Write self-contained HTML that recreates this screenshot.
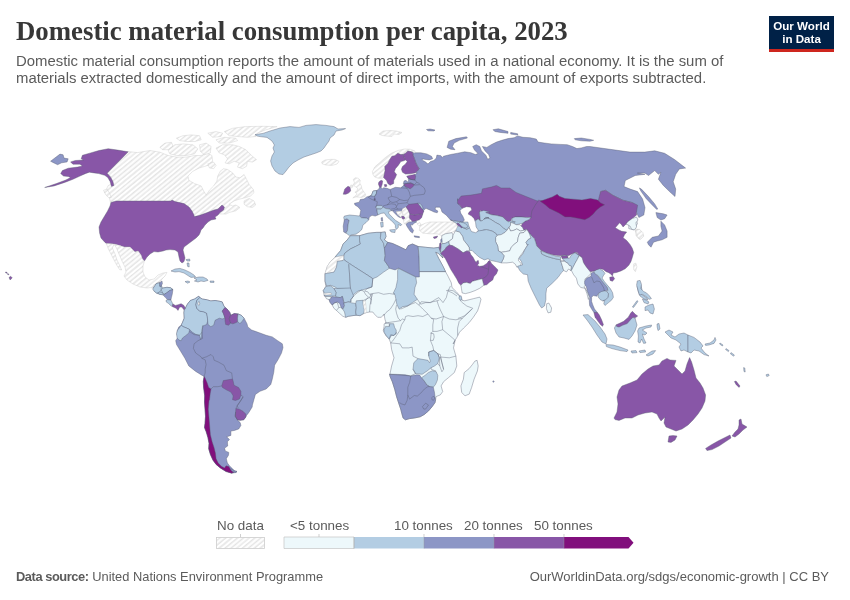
<!DOCTYPE html>
<html lang="en">
<head>
<meta charset="utf-8">
<title>Domestic material consumption per capita, 2023</title>
<style>
html,body{margin:0;padding:0;background:#fff;}
body{width:850px;height:600px;position:relative;overflow:hidden;font-family:"Liberation Sans",sans-serif;color:#5b5b5b;}
#title{position:absolute;left:16px;top:15px;margin:0;font-family:"Liberation Serif",serif;font-weight:bold;font-size:26.8px;line-height:32px;color:#373737;white-space:nowrap;letter-spacing:0px;}
#sub{position:absolute;left:16px;top:52.9px;margin:0;font-size:14.9px;line-height:17.4px;color:#5b5b5b;white-space:nowrap;}
#logo{position:absolute;left:769px;top:16px;width:65px;height:33px;background:#002147;border-bottom:3px solid #ce261e;color:#fff;font-weight:bold;font-size:11.6px;line-height:12.2px;text-align:center;}
#logo span{display:block;white-space:nowrap;}
#logo .a{padding-top:4.4px;}
#map{position:absolute;left:0;top:0;}
.c1,.c2,.c3,.c4,.c5,.w{stroke:#555a70;stroke-width:0.4;stroke-linejoin:round;}
.c1{fill:#edf8fb}.c2{fill:#b3cde3}.c3{fill:#8c96c6}.c4{fill:#8856a7}.c5{fill:#810f7c}.w{fill:#fff}
.b{fill:none;stroke:#555a70;stroke-width:0.4;stroke-linejoin:round;}
.n{fill:url(#h);stroke:#c8c8c8;stroke-width:0.4;stroke-linejoin:round;}
.lg{position:absolute;font-size:13.4px;line-height:16px;color:#5b5b5b;white-space:nowrap;}
#src{position:absolute;left:16px;top:569px;font-size:12.87px;line-height:16px;color:#5b5b5b;white-space:nowrap;}
#src b{font-weight:bold;letter-spacing:-0.44px;}
#url{position:absolute;right:21px;top:569px;font-size:13px;line-height:16px;color:#5b5b5b;white-space:nowrap;}
</style>
</head>
<body>
<h1 id="title">Domestic material consumption per capita, 2023</h1>
<p id="sub">Domestic material consumption reports the amount of materials used in a national economy. It is the sum of<br>materials extracted domestically and the amount of direct imports, with the amount of exports subtracted.</p>
<div id="logo"><span class="a">Our World</span><span>in Data</span></div>
<svg id="map" width="850" height="600" viewBox="0 0 850 600">
<defs>
<pattern id="h" width="37" height="37" patternUnits="userSpaceOnUse" patternTransform="rotate(-39.3)">
<rect width="37" height="37" fill="#fff"/>
<path d="M0,0.60H37M0,4.30H37M0,8.00H37M0,11.70H37M0,15.40H37M0,19.10H37M0,22.80H37M0,26.50H37M0,30.20H37M0,33.90H37" stroke="#e3e3e3" stroke-width="1.45" fill="none"/>
</pattern>
</defs>
<path class="n" d="M127.8,151.5 137.6,152.6 150,150.5 159.9,152.2 168.2,155.5 176.4,157.1 186.3,157.1 194.6,155.5 201.2,155.5 207,153 211.9,155.5 212.7,161.3 207.8,165.4 199.5,167.9 192.9,171.2 188,176.1 188.8,180.3 194.6,183.6 201.2,186 203.7,191 206.1,195.1 209.4,190.2 213.6,186 216.9,181.1 217.7,176.1 220.2,171.2 223.5,168.7 227.6,169.5 232.5,172.8 235.9,177 240,177.8 244.1,174.5 246.6,179.4 249.1,184.4 253.2,189.3 254,192.6 250.7,195.9 245.8,197.6 239.2,199.2 234.2,200.9 229.2,204.2 232.5,205.9 235.9,205 240,207.5 235.9,210.8 229.2,212.5 225.9,214.1 217.6,213.8 205.9,218.5 189.4,220.9 170.6,209.1 114.1,209.1 110.6,203.2 109.4,197.4 104.7,192.6 108.2,185.6 112.9,183.2 110.6,176.2 107.1,173.8Z"/>
<path class="n" d="M159.9,147.2 164.9,143.1 171.5,142.3 173.1,146.4 168.2,149.7 162.4,149.7Z"/>
<path class="n" d="M168.2,150.5 174.8,144.8 183,143.9 192.9,144.8 197.9,148.9 194.6,153.8 186.3,155.5 176.4,155.5 169.8,153.8Z"/>
<path class="n" d="M176.4,138.2 183,135.7 191.3,134.9 199.5,135.7 201.2,139.8 194.6,141.5 186.3,141.5 179.7,140.6Z"/>
<path class="n" d="M199.5,144.8 206.1,143.1 211.1,146.4 210.3,153 204.5,154.7 200.4,151.4Z"/>
<path class="n" d="M216,139.8 224.3,137.3 235.9,138.2 237.5,140.6 229.2,143.1 219.3,143.1Z"/>
<path class="n" d="M224.3,131.6 232.5,128.3 245.8,126.6 262.3,126.3 277.1,126.6 265.6,129.9 257.3,133.2 255.7,136.5 247.4,137.3 237.5,136.5 229.2,135.7Z"/>
<path class="n" d="M207.8,133.2 216,131.6 222.6,133.2 221,136.5 212.7,137.3Z"/>
<path class="n" d="M216,148.1 222.6,144.8 232.5,144.8 239.2,146.4 245.8,149.7 252.4,156.3 256.5,159.6 252.4,162.1 247.4,161.3 246.6,166.2 242.5,168.7 237.5,167.1 239.2,162.9 234.2,161.3 229.2,163.8 225.1,162.9 227.6,158.8 224.3,154.7 219.3,153Z"/>
<path class="n" d="M207.8,163.8 213.6,162.1 216,165.4 213.6,168.7 209.4,167.9Z"/>
<path class="n" d="M244.1,200.9 249.1,198.4 254,200.9 255.7,205 252.4,207.5 247.4,206.7 244.1,204.2Z"/>
<path class="n" d="M103.5,190.3 107.1,189.1 109.9,193.8 111.3,197.4 108.9,197.8 105.9,195Z"/>
<path class="c2" d="M255,134.6 263,133.4 270,131 280,128 290,126.6 299,127.4 306,125.4 316,124.6 326,125.4 334,126.6 338,129 345.6,128.6 342,130 336,131 334,135 330,138 329,141 326,145 324,148 321,151 316,153 310,155 304,157 298,160 293,163 289,167 286,171 283,174.6 279,174 275,171 272,166 270.6,161 272,156 274.4,152 273,148 274.4,145 272,141 267,137.4 260,136.6 257,136Z"/>
<path class="n" d="M321.6,162 325,160 330,159.4 335,159.4 339,161.4 337,164 332,165.4 326,165 322.4,164Z"/>
<path class="c4" d="M128.2,151.8 117.6,150.1 108.2,148.7 98.8,150.6 90.6,152.9 82.4,155.3 81.2,158.8 83.5,160 75.3,160.5 70.6,161.9 72.9,164.2 80,164.2 82.4,165.9 77.6,167.1 68.2,168.2 62.4,170.6 60.7,173.6 63.5,176 68.2,176.5 70.6,177.6 65.9,180 56.5,183.5 44.7,187.5 54.1,185.9 64.7,182.4 72.9,179.3 80,176 85.9,173.4 89.4,172.2 94.1,172.9 98.8,173.6 104.7,175.3 107.8,177.6 110.1,181.6 111.5,186.4 113.9,185.4 112.9,181.6 110.6,177.2 107.1,173.2Z"/>
<path class="c3" d="M50.6,161.2 60,154.1 63.1,154.8 64,158.1 68.2,158.8 67.1,161.9 61.6,162.8 57.6,164.7 52.9,162.4Z"/>
<path class="c4" d="M111,202.4 116,201 171,201 172,200 175,201.6 184,203.6 189,207 192,211 194,215 194.2,216.6 199,215.6 206,213 214,210 218,209 222,205 224.4,207 223.6,210 220,212.4 218,215 215,217 216,219 211,220 208,222 205,225 203,228 201,230 200,233 199,235 196,238 192,241 188,244 184,247 183,250 184,254 185,258 184,261.6 182,263 180,261 179,257 178,252 175,250 170,249.6 166,250 163,251 158,252 154,251.6 150,254 147,257 144.4,261 142.4,259 141,255 138,251 135,252 132,249 130,247 124,247 120,245.6 114,244 106.4,243.6 105,242.4 101,238 99.6,233 99,227 101,222 104,217 107.6,211 110,206Z"/>
<path class="n" d="M106.4,243.6 114,244 120,245.6 124,247 130,247 132,249 135,252 138,251 141,255 142.4,259 144.4,261 143,266 143,272 145,277 149,280 154,279 158,275 163,273 167,272.4 165,276 162,279 160,282 158,282.4 157,285 154,284.4 153,288 150,287.6 147,288 140,287 133,284 127,280 124,276 126,272 125,267 122,261 119,254 116,247 114,244.4 112.4,248 115,254 117,260 120,266 121.6,270 119.6,269.6 117,265.6 114,260 111,254 108.4,249Z"/>
<path class="c2" d="M171,271 175,269 180,268.4 185,270 190,272.4 194,275 195.6,277 191,277.4 188,275.6 184,273 179,271.6 175,272Z"/>
<path class="c2" d="M194,278 199,277 203,277 207,279 208,280.4 204,281.6 201,281 198,282 194.4,281 197,280Z"/>
<path class="c2" d="M185,281.6 188,281 190,282 187.6,283.2Z"/>
<path class="c2" d="M210,281 214,281 214,282.4 210.4,282.4Z"/>
<path class="c2" d="M186,259.6 189.6,259 190,261 187,261Z"/>
<path class="c2" d="M187,263 189,263 189.2,267 187.6,266.4Z"/>
<path class="c3" d="M185.3,308.2 187.5,304 190.3,300.5 194.5,299 198.8,296.2 199.8,297.6 202.3,299 206.6,299.7 210.8,300.9 215.1,300.5 219.3,301.2 222.2,301.9 223.6,305.4 225,307.5 227.1,309 229.9,312.5 230.7,315.3 234.2,313.6 238,313.9 241.3,315.3 244.1,318.2 247,323.8 247.8,326.9 251.6,330 260,333 266.2,335.3 272.3,336.9 277.7,340.7 282.3,343.8 283,347.6 281.5,353 278.4,359.1 274.6,365.2 273.8,372.1 272.3,379 270.8,384.4 266.2,389 260,391.3 255.4,394.4 253.9,399.7 252.4,405.1 252.2,407 248.7,412.7 246.5,415.5 245.8,417 243.7,419.8 240.2,420.2 237.3,419.8 240.2,422.6 240.9,425.5 238.7,429 234.5,430.4 230.9,431.1 230.9,435.4 226.7,436.8 229.5,439.6 227.4,441.7 227.7,446 224.6,448.1 225.3,450.9 228.8,452.4 228.5,455.2 226.3,458.7 227.4,463 229.5,465.8 234.5,470.8 237,471.5 235.9,472.5 231.7,473.2 226,471.5 220.3,467.9 216.1,464.4 213,460.2 210.4,454.5 208.7,448.8 209,443.2 207.9,437.5 206.2,431.8 204.5,427.6 205,423.3 205.5,416.2 205,409.2 204.5,402.1 204.7,395 204.6,395.1 203.6,387.5 203.3,381.3 204.1,376.4 201.8,375.2 195.7,371.4 188.8,366 184.9,358.3 180.3,350.7 176.5,344.5 175.7,340.7 178,336.9 177,334.6 177.3,330.7 178.8,326.9 181.1,325.4 182.5,322.4 184.2,318.2 183.9,312.5 184.2,310.4Z"/>
<path class="c2" d="M185.3,308.2 187.5,304 190.3,300.5 194.5,299 198.8,296.2 199.8,297.6 196.7,300.5 195.9,304.7 196.7,308.2 199.5,311.1 203.7,311.8 206.6,313.2 207.3,316.7 207.7,321 206.6,324.5 203,325.9 202.3,329.5 201.6,336.6 200.6,339.4 199.5,335.2 195.9,334.4 192.4,332.3 189.6,329.5 186.7,328.1 183.2,326.7 181.1,325.2 182.5,322.4 184.2,318.2 183.9,312.5 184.2,310.4Z"/>
<path class="c2" d="M199.8,297.6 202.3,299 206.6,299.7 210.8,300.9 215.1,300.5 219.3,301.2 222.2,301.9 223.6,305.4 225,307.5 222.2,311.1 223.6,313.9 225,318.2 222.2,318.9 219.3,318.2 215.1,320.3 213.7,325.2 210.8,326.7 208,324.5 207.7,321 207.3,316.7 206.6,313.2 203.7,311.8 199.5,311.1 196.7,308.2 195.9,304.7 196.7,300.5Z"/>
<path class="w" d="M198.1,302.3 199.2,301.4 199.8,304 198.8,305.4 197.8,304Z"/>
<path class="c4" d="M225,307.5 227.1,309 229.9,312.5 230.7,315.3 229.2,318.9 230.7,323.1 228.5,325.2 225.7,324.5 225,321 225,318.2 223.6,313.9 222.2,311.1Z"/>
<path class="c4" d="M230.7,315.3 234.2,313.6 238,313.9 237.5,318.2 237.7,321.7 234.9,323.1 232.8,323.8 230.7,323.1 229.2,318.9Z"/>
<path class="c2" d="M238,313.9 241.3,315.3 244.1,318.2 242,321.7 239.9,323.5 237.7,321.7 237.5,318.2Z"/>
<path class="c2" d="M181.1,325.2 183.2,326.7 186.7,328.1 189.6,329.5 188.9,333 185.3,335.9 182.5,338 181.1,340.8 179,340.1 177.1,338 176.5,333.7 177.5,330.2 179.7,327.4Z"/>
<path class="c2" d="M153.5,287.7 156.3,283.5 159.8,282.7 162.7,288.1 166.9,287.3 170.5,287.7 172.9,289.5 166.9,292.7 163.4,294.8 159.8,294.4 157,293.4 154.2,291.2Z"/>
<path class="c2" d="M153.5,287.7 156.3,283.5 159.8,282.7 159.8,286.3 161.2,286.3 161.2,289.8 159.1,292.7 157,293.4 154.2,291.2 152.7,289.1Z"/>
<path class="c3" d="M159.8,282.7 162,281 162.4,283.5 161.2,286.3 159.8,286.3Z"/>
<path class="c2" d="M161.2,289.8 162.7,288.1 166.9,287.3 170.5,287.7 172.9,289.5 169.7,290.5 166.9,292.7 164.1,294.4 162.7,292.9Z"/>
<path class="c2" d="M157.7,292.7 159.8,292 162.7,292.9 163.4,294.8 159.8,294.4Z"/>
<path class="c3" d="M164.1,294.4 166.9,292.7 169.7,290.5 172.9,289.5 172.3,294.1 171.4,297.6 170.9,300 167.6,299.7 165.5,297.6 163.4,295.5Z"/>
<path class="c2" d="M167.6,299.7 170.9,300 172.9,304 172.3,306.5 170.5,305.4 168.3,303.3 166.2,301.9 166.2,300Z"/>
<path class="c4" d="M172.9,304 175.4,305.4 178.2,304.7 181.1,303.7 183.9,305.4 185.3,308.2 183.9,309.7 181.8,307.1 179.7,307.1 178,310.4 176.1,308.2 173.3,307.1 172.3,306.5Z"/>
<path class="c4" d="M223.3,380.6 227.9,379.8 232.5,379 233.2,381.3 234,385.2 238.6,387.5 240.9,391.3 240.9,395.1 239.4,399 235.5,400.5 232.5,399.7 233.2,395.9 230.9,392.1 226.3,389.8 222.5,387.5 221.7,385.9Z"/>
<path class="c5" d="M204.1,376.4 205.2,378.3 207.2,382.9 208.7,387.5 211,389 210.2,393.6 209.5,399.7 209,400.7 208.3,409.2 209,417.7 209.7,426.2 210.4,434.7 212.1,441.7 214,447.4 215.4,453.1 216.1,458.7 218.2,463 221.7,466.5 224.6,467.9 226,465.8 228.8,466.5 230.9,470.1 233.8,472.2 231.7,473.2 226,471.5 220.3,467.9 216.1,464.4 213,460.2 210.4,454.5 208.7,448.8 209,443.2 207.9,437.5 206.2,431.8 204.5,427.6 205,423.3 205.5,416.2 205,409.2 204.5,402.1 204.7,395 204.6,395.1 203.6,387.5 203.3,381.3Z"/>
<path class="c4" d="M235.9,408.5 239.4,409.2 243,411.3 245.8,414.1 245.8,417 243.7,419.8 240.2,420.2 237.3,419.8 235.2,416.2 235.6,412Z"/>
<path class="c3" d="M230.9,468.7 234.5,470.8 237,471.5 235.9,472.5 232.4,471.5 230.9,470.1Z"/>
<path class="c3" d="M359.7,216.1 360.8,210.2 358.1,207 354.9,204.9 354.4,203.3 359.2,202.2 360.3,199.5 364,199 366.7,196.9 370.4,195.8 371.5,195.3 373.1,191 376.8,190.5 378.9,188.9 379.7,186.9 381.1,187.3 382.1,188.9 383.7,187.8 386.9,188.3 390.1,189.4 395.4,187.3 400.8,187.8 404,185.1 403.4,183.5 404,180.9 406.1,180.3 407.2,181.9 408.8,180.9 408.2,179.8 409.3,178.2 410.2,176.4 415,174.6 417.3,173.1 415.6,172.6 417.3,171.1 419.1,168.7 417.3,165.8 415.6,162.2 414.4,158.7 413.2,155.7 412.6,152.2 415,152.8 420.9,152.8 426.8,153.9 431.5,156.3 432.7,158.7 429.2,159.9 424.4,159.3 422.1,158.7 422.7,160.4 425,161.6 428,164 430.4,161.6 433.9,160.4 436.3,158.1 436.9,155.1 441,155.7 442.2,157.5 443.5,156.2 450.6,154.5 457.7,153.2 464.7,151.8 470.9,152.7 475.3,154.5 478,153.6 474.5,150 472.7,146.5 476.2,144.7 479.8,146.5 481.5,150.9 485.9,155.3 487.7,159.2 490,158 488.6,154.5 485.1,150.9 482.4,146.5 486.8,147.4 491.2,144.7 496.5,142.1 501.8,140.3 508,138.6 514.2,137.7 517.7,135.9 523,137.3 530.1,137.7 536.3,139.1 538.1,142.1 544.2,143 551.3,143.9 560.1,144.4 567.2,144.7 572.5,146.5 576.9,148.6 581.3,147.9 586.6,146.5 590,146.5 630,152.1 644.8,152.1 654.7,150.8 664.6,153.3 674.5,159.5 685.6,168.1 679.4,168.9 675.7,174.3 673.2,181.7 675.7,189.1 675,196.5 669.5,191.6 663.3,185.4 658.4,179.2 660.9,172.3 658.4,174.3 654.7,170.6 648.5,175.5 644.8,173.1 637.4,173.1 645,174.3 635.2,175.5 625.3,180.5 624,186.6 630.2,189.1 637.6,191.6 642.6,199 645,207.6 643.8,215 638.9,217.5 636.4,212.6 632.7,202.7 622.8,200.2 612.9,195.3 605.5,190.3 600.6,191.6 600.6,200.2 588.2,207.6 563.5,207.6 543.8,206.4 535.1,202.7 525.2,201.5 510.4,196.5 498.1,194.1 483.2,196.5 472.1,200.2 462.2,201.5 458.5,204.4 457.5,202.9 460.1,205.6 462.2,208.3 460.1,210.4 460.7,213.1 462.8,216.3 464.4,220 462.2,222.7 460.1,221.8 454.8,221.1 450.5,220 446.3,215.2 442,212 441.1,209.3 439.9,207.2 435.6,207.2 435.1,209.3 437.9,211.1 437.2,212.8 434,212 431.9,210.9 428.1,209.3 426,208.3 423.9,209.9 423.3,212 416.4,212 408.2,210.2 406.1,207 402.4,209.1 401.8,211.3 398.1,211.3 396,211.8 397.6,214.5 400.8,217.7 398.6,217.1 395.4,213.9 393.3,211.8 392.8,210.7 391.2,210.7 390.1,209.1 385.9,208.6 383.2,207 381.6,205.9 377.3,205.9 375.7,207 376.8,209.1 377.3,212.3 377.9,215 375.2,216.1 372,215.3 369.3,217.1 368.8,219.8 366.7,218.2 361.3,217.7Z"/>
<path class="c4" d="M343.2,194.2 344.8,188.9 348,186.2 350.1,187.3 350.7,191 348.5,193.1 345.9,194.2Z"/>
<path class="n" d="M352.8,197.9 356,196.9 361.3,197.4 365.1,196.3 365.6,194.2 364,192.1 361.9,188.9 361.3,185.7 359.7,183 360.3,180.3 358.1,178.2 355.5,177.7 353.3,179.3 354.4,182.5 353.3,185.1 355.5,186.7 357.6,188.3 357.1,191 354.9,192.1 357.1,193.7 356,195.3Z"/>
<path class="n" d="M350.1,187.3 350.7,185.1 352.6,185.1 353,186.7 351.7,187.8Z"/>
<path class="c3" d="M344.3,219.8 346.9,218.7 349.1,220.3 348,225.1 347.5,230.4 345.9,233.1 343.7,232 343.2,226.2Z"/>
<path class="c2" d="M344.3,216.1 349.6,215 354.9,215.5 359.7,216.1 361.3,217.7 366.7,218.2 368.8,219.8 366.1,222.5 362.9,225.1 361.9,229.4 359.2,232 356,234.2 351.7,234.7 349.6,235.8 347.5,234.2 345.9,233.1 347.5,230.4 348,225.1 349.1,220.3 346.9,218.7 344.3,219.8 343.7,217.7Z"/>
<path class="c3" d="M381.1,217.9 382.4,217.4 382.7,220.9 381.4,220.9Z"/>
<path class="c2" d="M380.5,222.5 383,221.9 383.2,226.7 381.1,227.2Z"/>
<path class="c2" d="M371.5,195.3 373.1,191 376.8,190.5 376.3,193.7 374.7,196.3 373.6,196.3 370.4,195.8Z"/>
<path class="c4" d="M374.1,198.7 375.2,198.7 375.2,200.1 374.2,200.1Z"/>
<path class="c4" d="M378.9,181.9 381.1,180.3 382.7,180.9 382.1,184.6 381.1,187.3 379.5,186.9 378.4,184.1Z"/>
<path class="c4" d="M384.3,184.6 386.4,184.4 386.9,186.2 384.8,186.7Z"/>
<path class="c2" d="M375.7,207 377.3,205.4 381.6,205.4 383.2,207 381.1,209.1 377.3,208.9Z"/>
<path class="c2" d="M377.9,215 377.3,212.3 376.8,209.1 381.1,209.1 383.2,207 385.9,208.6 390.1,209.1 391.2,210.7 388.5,211.8 389.1,213.9 392.2,217.1 395.4,220.3 399.7,223 401.8,224.6 400.8,225.7 398.1,224.6 398.4,227.2 396.5,229.4 395.4,227.8 395.4,225.1 392.8,221.9 389.6,219.3 386.4,216.1 384.3,212.9 381.1,213.4Z"/>
<path class="c2" d="M389.6,229.9 395.4,229.4 394.9,232.6 391.2,232Z"/>
<path class="n" d="M396,211.8 401.8,211.3 402.9,213.9 401.3,217.1 398.1,215Z"/>
<path class="n" d="M402.4,209.1 406.1,207 408.2,210.2 409.8,213.9 409.3,217.7 409.8,221.9 406.1,222.5 405.6,224.1 404,223.5 403.4,219.8 405,218.2 404,216.6 402.9,213.9 401.8,211.3Z"/>
<path class="c4" d="M401.8,216.1 404,216.6 405,218.2 402.9,219.3 401.6,217.7Z"/>
<path class="c3" d="M406.1,224.1 408.2,222.5 412.5,221.4 415.7,220.9 416.8,221.9 413.6,223.5 412.5,225.1 410.4,224.6 411.4,227.2 413.6,230.4 412.5,233.1 410.4,231.5 408.2,228.3 406.6,225.7Z"/>
<path class="c3" d="M414.1,235.8 419.4,236.6 419.4,237.7 414.6,237.1Z"/>
<path class="c4" d="M409.8,213.9 414.6,215 420,213.9 422.6,214.5 421.6,217.7 419.4,219.8 415.7,220.9 412.5,221.4 410.4,219.3 409.3,217.7Z"/>
<path class="c4" d="M406.1,207 408.8,204.3 413.6,203.8 417.8,203.3 420,205.9 422.1,209.1 423.7,211.3 422.6,214.5 420,213.9 414.6,215 409.8,213.9 408.2,210.2Z"/>
<path class="c2" d="M417.8,203.3 420,203.3 422.1,205.9 423.2,208.6 422.1,209.1 420,205.9Z"/>
<path class="n" d="M372.4,171.7 374.7,167 379.5,162.8 385.4,157.5 391.3,153.3 398.4,150.4 404.3,149 410.2,149.2 415,151 415,152.8 412.6,152.2 410.8,151.6 407.9,151 405.5,153.3 403.1,154.5 400.8,154.5 397.8,153.3 394.9,155.7 391.9,156.3 389.5,159.9 387.8,163.4 384.8,166.4 385.1,170.5 384.2,174.6 383.6,177.6 381.8,178.2 378.3,178.2 374.7,177 373,174.6Z"/>
<path class="c4" d="M397.8,153.3 400.8,154.5 403.1,154.5 404.3,157.5 405.5,159.9 403.7,160.8 400.8,161.6 398.4,165.2 395.4,168.7 394.3,171.7 396.6,174.6 395.4,177.6 393.7,180.6 393.7,183.5 390.1,185.3 387.8,183.5 386.6,180.6 383.6,177.6 384.2,174.6 385.1,170.5 384.8,166.4 387.8,163.4 389.5,159.9 391.9,156.3 394.9,155.7Z"/>
<path class="c4" d="M404.3,157.5 403.1,154.5 405.5,153.3 407.9,151 410.8,151.6 412.6,152.2 413.2,155.7 414.4,158.7 415.6,162.2 417.3,165.8 419.1,168.7 417.3,171.1 415,172.9 410.2,173.8 405.5,174.1 402.5,172.3 401.4,169.3 402.5,166.4 405.5,164 407.3,161.6 405.5,159.9Z"/>
<path class="c4" d="M406.7,176.2 410.2,175.2 415,174.6 415.6,176.4 415,180 410.8,179.4 407.9,178.2Z"/>
<path class="c4" d="M404.3,184.1 406.7,183.5 410.8,182.9 414.4,184.7 412.6,187.1 410.2,188.8 406.7,187.1 404.6,185.9Z"/>
<path class="c3" d="M447.1,147.4 448.8,141.2 455.9,138.6 466.5,136.8 467.4,138 459.4,140.3 454.1,143 452.4,146.5 455,149.7 450.6,149.2Z"/>
<path class="c3" d="M493,129.7 498.3,128.8 508,131.5 508,133.3 500.1,132.4 494.8,131.5Z"/>
<path class="c3" d="M510.7,132.4 517.7,133.8 517.7,135 510.7,134.1Z"/>
<path class="c3" d="M574.3,138.6 581.3,138 590,139.4 593.7,140.3 590,141.2 581.3,140.8 575.2,139.8Z"/>
<path class="n" d="M379,134 383,131 390,130.5 396,131 402,132.5 399,134.5 394,134 392,136.5 386,136 382,135.5Z"/>
<path class="c3" d="M426.5,129.5 430,129 435,130 434,131 428,130.8Z"/>
<path class="c3" d="M639.4,187.9 641.4,189.1 648.5,196.5 654.7,203.9 657.7,208.9 656.7,209.4 651.7,204.4 646.1,198.5 640.9,191.1Z"/>
<path class="c3" d="M655.9,212.6 663.3,213.8 667.1,215 664.6,218.8 660.9,220 657.2,217.5Z"/>
<path class="c3" d="M660.9,221.2 664.6,224.9 667.1,231.1 667.1,237.3 662.1,239.8 657.2,241 653.5,242.2 651,247.2 648.5,244.7 647.3,242.2 652.2,237.3 658.4,236 662.1,231.1 660.9,226.2Z"/>
<path class="c1" d="M628.8,220 636.2,218.8 637.4,223.7 633.7,229.9 628.8,228.6Z"/>
<path class="n" d="M634.9,228.6 639.9,229.9 643.6,236 639.9,239.8 636.2,236Z"/>
<path class="c1" d="M350.5,235.7 358.8,235.7 359.6,235.7 367.9,233.3 376.1,232.4 381.1,232.4 385.2,231.9 386,236.6 384.4,239.9 387.7,242.3 392.6,243.5 399.2,246.5 405.9,249.8 408.3,245.6 412.5,244 418.2,246.5 425.7,247.3 433.9,248.1 438.9,247.3 440.5,252.2 443,258 441.3,256.4 438,253.1 435.6,252.2 438.9,258.8 443,266.3 445.5,271.6 448,276.2 451.3,282.8 452,287.5 456.3,291.7 459.5,295.5 461.1,297.6 462.1,300.3 464.8,300.8 473.3,298.7 479.7,297.1 481,299.2 479.7,304.5 477.6,310.9 473.3,317.3 469.1,322.7 463.7,328 459.5,332.2 456.8,337.6 454.1,341.8 453.1,344 455.1,340.4 453.5,347.9 455.9,356.1 456.8,366 454.3,372.6 448.5,377.6 443.6,381.7 441.1,385.9 442.7,391.6 440.3,394.9 436.1,396.6 435.6,399.6 435,402.6 432.1,406.7 428.5,410.9 424.4,414.4 420.2,416.8 414.3,418 409.6,418.6 405.4,419.8 403.1,418 401.9,413.8 400.7,409.1 398.9,403.8 396.6,396.7 394.8,389.6 392.4,381.9 390.1,376.6 389.5,374.2 389.9,374.3 391.6,366 394,357.8 391.6,349.5 390.7,342.9 389.1,338.8 385.8,335.5 383.3,330.5 384.1,326.4 384.1,323.9 385.3,323.2 386.1,322.7 385,319.5 384,314.1 381.3,317.3 377.6,317.3 374.4,314.1 372.8,312 369.6,312 366.7,312.5 364.3,313.3 360,315.7 356.3,315.2 352,315.7 348.3,316.3 345.6,317.3 342.9,316.3 339.2,313.1 336.5,310.4 333.9,308.3 332.3,305.1 330.1,302.4 329.1,299.7 326.4,298.7 325.3,296.5 324.3,296 323.2,290.7 325.9,286.4 325.3,283.2 325,281.1 325,273.7 327.4,266.3 330.7,261.3 334.9,257.2 340.6,250.6 343.1,244 347.2,239.9Z"/>
<path class="c2" d="M350.5,235.7 358.8,235.7 359.6,235.7 359.6,240.7 360.4,244 355.5,246.5 350.5,248.9 344.8,253.1 343.9,255.5 334.9,257.2 340.6,250.6 343.1,244 347.2,239.9Z"/>
<path class="n" d="M334.9,257.2 343.9,255.5 343.9,259.7 343.1,260.5 337.3,261.3 336.5,267.1 334,272.1 325,273.7 327.4,266.3 330.7,261.3Z"/>
<path class="c2" d="M359.6,235.7 367.9,233.3 376.1,232.4 381.1,232.4 380.3,238.2 383.6,243.2 384.4,248.1 385.2,255.5 384.4,260.5 388.5,266.3 389.3,268.3 383.6,272.1 377,277 372.8,278.7 367.9,275.4 349.7,263.8 343.9,259.7 343.9,255.5 344.8,253.1 350.5,248.9 355.5,246.5 360.4,244 359.6,240.7Z"/>
<path class="c2" d="M381.1,232.4 385.2,231.9 386,236.6 384.4,239.9 387.7,242.3 386,245.6 384.4,248.1 383.6,243.2 380.3,238.2Z"/>
<path class="c3" d="M387.7,242.3 392.6,243.5 399.2,246.5 405.9,249.8 408.3,245.6 412.5,244 418.2,246.5 419.1,258 419.4,271.6 419.4,277 415.8,277 398.4,268.3 395.1,269.9 389.3,268.3 388.5,266.3 384.4,260.5 385.2,255.5 384.4,248.1 386,245.6Z"/>
<path class="c2" d="M418.2,246.5 425.7,247.3 433.9,248.1 438.9,247.3 440.5,252.2 443,258 441.3,256.4 438,253.1 435.6,252.2 438.9,258.8 443,266.3 445.5,271.6 419.4,271.6 419.1,258Z"/>
<path class="c2" d="M325,273.7 334,272.1 336.5,267.1 337.3,261.3 343.1,260.5 343.9,259.7 349.7,263.8 348.9,264.6 350.5,288.6 337.3,288.6 334.9,286.9 330.7,285.3 326.6,286.1 325,281.1Z"/>
<path class="c2" d="M349.7,263.8 367.9,275.4 372.8,278.7 372,286.9 367.1,288.6 361.3,290.2 358,291 353.8,294.3 350.5,298.5 348.9,301.8 345.6,300.9 343.9,297.6 340.6,296 336.5,292.7 337.3,288.6 350.5,288.6 348.9,264.6Z"/>
<path class="c2" d="M398.4,268.3 415.8,277 416.6,282.8 414.9,287.7 414.1,294.3 417.4,299.3 412.5,302.6 407.5,305.9 402.5,306.7 399.2,309.2 396.8,304.2 395.9,299.3 395.1,295.2 393.5,292.7 395.9,287.7 397.6,279.5 397.6,270.4Z"/>
<path class="c2" d="M333.9,288.5 336,292.3 335.5,296 336,297.1 340.3,297.6 342.4,296.5 343.7,301.3 344.5,302.9 348.3,301.9 350.9,301.9 350.9,299.7 353.6,296 350.4,288Z"/>
<path class="c2" d="M323.2,290.7 325.9,286.4 330.7,285.9 333.9,288.5 336,292.3 335.5,296 331.2,296 326.4,296 324.3,296 324.8,294.9 331.2,294.4 331.2,293 324.8,293.3Z"/>
<path class="n" d="M324.8,293.3 331.2,293 331.2,294.4 324.8,294.9Z"/>
<path class="c3" d="M329.1,299.7 331.2,298.1 331.7,296.5 336,297.1 340.3,297.6 342.4,296.5 343.5,301.3 344.5,305.6 342.9,308.8 341.3,307.7 339.7,303.5 337.1,301.9 334.4,302.9 332.3,305.1 330.1,302.4Z"/>
<path class="c2" d="M344.5,302.9 348.3,301.9 352,302.9 355.7,303.5 356.3,307.7 355.7,312 356.3,315.2 352,315.7 348.3,316.3 345.6,317.3 344.5,312 342.9,309.3 344.5,305.6 343.7,302.9Z"/>
<path class="c2" d="M356.3,300.8 362.7,300.3 363.2,304.5 364.3,309.9 363.9,313.1 360,315.7 356.3,315.2 355.7,312 356.3,307.7 355.7,303.5Z"/>
<path class="n" d="M363.2,300.8 365.3,300.8 366.1,306.7 366.4,312.5 364.3,313.3 364.3,309.9 363.2,304.5Z"/>
<path class="c2" d="M384,329.6 385.6,326.4 389.3,326.4 389.8,323.7 393.6,323.7 394.6,327.5 396.2,330.1 396.2,333.8 393.6,335.4 391.4,335.4 389.3,339.2 386.6,336 384,332.2Z"/>
<path class="c2" d="M459.5,296 461.1,295.8 461.6,297.6 461.9,299.7 460,300.3 458.9,298.1Z"/>
<path class="c2" d="M413.8,362.7 418,358.6 427.9,360.3 429.5,362.7 430.4,361.1 428.7,356.1 428.7,352 433.7,350.4 437.8,353.7 439.4,357.8 437.8,363.6 434.5,366 431.2,367.7 427.1,371 422.1,374.3 415.5,373.5 413,369.3Z"/>
<path class="c2" d="M421.4,377.8 425,375.4 428.5,372.4 432.7,370.7 436.2,371.8 437.8,375.4 437.4,380.1 435.6,384.3 433.3,387.2 429.7,386.6 426.7,384.9 424.4,381.3Z"/>
<path class="c3" d="M389.5,374.2 397.8,374.4 405.4,374.8 410.8,376 416.7,374.8 419.6,375.1 421.4,377.8 424.4,381.3 426.7,384.9 429.7,386.6 433.3,387.2 434.4,392 435,396.7 435.6,399.6 435,402.6 432.1,406.7 428.5,410.9 424.4,414.4 420.2,416.8 414.3,418 409.6,418.6 405.4,419.8 403.1,418 401.9,413.8 400.7,409.1 398.9,403.8 396.6,396.7 394.8,389.6 392.4,381.9 390.1,376.6Z"/>
<path class="c1" d="M474.9,361.1 477.1,360.3 478.2,366 477.4,371 474.1,379.2 471.6,387.5 469.2,394.1 465,395.8 461.7,392.5 460.9,385.9 463.4,379.2 464.2,372.6 469.2,368.5 472.5,364.4Z"/>
<path class="c4" d="M531,217.3 528.9,219.7 525.3,221.1 522.5,223.2 521.1,226.1 522.5,227.5 523.9,230.3 526.7,229.6 528.9,232.5 531.7,236 534.5,238.8 535.9,243.1 536.7,245.9 540.9,250.2 546.6,253 553.7,255.1 560.7,255.8 565,255.1 568.5,255.8 570.7,254.4 574.2,253 577.7,253.7 579.9,255.8 581.3,260.1 574.2,252.5 577.1,252.5 579.2,254.7 581.3,257.5 583.5,263.2 584.9,267.4 587.7,270.9 591.2,271.7 594.1,270.9 597.6,270.2 600.5,268.8 603.3,269.5 606.1,271.7 608.2,272.4 610.4,273.8 612.5,275.9 613.2,273.1 616.7,272.4 621,270.9 625.2,268.8 628.8,265.3 630.9,261.7 632.3,257.5 633.7,252.5 632.3,248.3 630.2,244.7 626.7,240.5 623.1,237.7 624.5,234.8 626.7,232 621.7,231.3 618.9,229.9 615.3,227.7 619.6,222.8 621.7,224.9 623.1,227 625.9,224.2 628.1,221.4 632.3,218.5 636.6,215 636.4,212.6 637.6,205.2 632.7,202.7 622.8,200.2 612.9,195.3 605.5,190.3 600.6,191.6 599.3,196.5 598.1,201.5 588.2,203.9 563.5,203.9 538.8,200.2 538.4,200.3 535.9,202.7 533.8,206.2 531.7,209.8 529.6,212.6Z"/>
<path class="c4" d="M609.7,277.3 613.2,276.6 614.6,278.7 612.5,281.3 610.1,280.4Z"/>
<path class="n" d="M633.7,263.9 635.9,263.2 636.9,266.7 635.4,271.7 633.7,269.5Z"/>
<path class="c1" d="M628.1,221.4 632.3,218.5 636.6,217.1 638,220 635.9,222.8 636.6,227 634.4,229.9 631.6,229.2 630.2,226.3 628.1,224.9 625.9,224.2Z"/>
<path class="n" d="M635.4,229.9 639.4,229.2 642.9,232.7 643.7,236.2 640.8,239.1 638,237.7 636.6,233.4Z"/>
<path class="c5" d="M540.2,201.3 545.9,199.2 552.2,197 557.2,194.2 559.3,196.3 565,198.5 573.5,199.2 582,199.9 590.5,198.5 597.6,199.9 600.4,202.7 604.6,204.8 600.4,207 596.1,210.5 593.3,214 589.1,217.6 584.8,219.7 577.7,218.3 570.7,216.9 565,216.9 559.3,213.3 553.7,210.5 549.4,208.4 545.2,204.8Z"/>
<path class="c4" d="M457.7,200.4 461.2,196 470.9,195.1 481.5,193.3 482.4,188.9 491.2,187.1 496.5,185.4 501,188 509.8,188 516,192.4 524.8,196 533.6,199.5 538.1,201.3 535.4,204.8 531.9,211 531,216.3 531,217.3 526.7,217.6 521.1,216.9 515.4,216.9 511.9,218.3 510.5,221.1 508.3,221.8 506.2,220.4 502.7,216.9 497,215.5 491.3,214.7 485.7,212.6 480,210.5 479.8,215.2 480.4,221.1 478.2,218.9 475,221.1 474,218.4 471.3,215.7 468.1,214.1 469.2,212 471.8,209.9 470.8,207.2 466.5,206.7 462.2,208.3 460.1,205.6 457.5,202.9 457.5,198.7Z"/>
<path class="c2" d="M479.3,212 483.6,210.4 490,212 485.7,212.6 491.3,214.7 497,215.5 502.7,216.9 506.2,220.4 508.3,221.8 510.5,221.1 511.9,221.1 515.4,221.8 513.3,223.2 510.5,222.5 510.5,225.4 509,227.5 506.9,230.3 503.4,228.2 499.8,224.7 495.6,222.5 491.3,219.7 487.1,217.6 484.2,219 488.9,217.9 485.7,217.3 482.5,220.5 480.4,221.1 479.8,215.2Z"/>
<path class="c2" d="M475,221.1 478.2,218.9 480.4,221.1 482.5,220.5 485.7,217.3 488.9,217.9 484.2,219 487.1,217.6 491.3,219.7 495.6,222.5 499.8,224.7 503.4,228.2 506.9,230.3 504.8,232.5 501.2,234.6 497,235.3 495.6,233.2 492,231 486.4,229.6 482.8,230.3 488.9,231.2 484.6,230.1 480.4,231.2 477.7,232.2 478.2,230.1 476.1,226.9 475.6,222.7Z"/>
<path class="c2" d="M511.9,218.3 515.4,216.9 521.1,216.9 526.7,217.6 531,217.3 528.9,219.7 525.3,221.1 522.5,223.2 519.7,224 516.1,224.7 513.3,223.2 515.4,221.8 511.9,221.1Z"/>
<path class="c1" d="M510.5,222.5 513.3,223.2 516.1,224.7 519.7,224.7 522.5,227.5 523.9,230.3 520.4,231 516.8,228.9 514,230.3 510.5,231 509,227.5 510.5,225.4Z"/>
<path class="c1" d="M495.6,237.4 497,235.3 501.2,234.6 504.8,232.5 506.9,230.3 509,227.5 510.5,231 514,230.3 516.8,228.9 520.4,231 523.9,230.3 526.7,229.6 523.9,232.5 519.7,233.2 518.2,237.4 517.5,241.7 514,244.5 511.2,247.3 509.7,250.9 505.5,251.6 501.2,252.3 498.4,250.9 497.7,245.9 495.6,241.7Z"/>
<path class="c1" d="M501.2,252.3 505.5,251.6 509.7,250.9 511.2,247.3 514,244.5 517.5,241.7 518.2,237.4 519.7,233.2 523.9,232.5 526.7,229.6 528.9,232.5 531.7,236 531,238.1 528.2,239.5 526,242.4 527.5,245.2 525.3,248.7 522.5,253 519.7,256.5 518.2,260.1 521.1,263.6 520.4,266.4 516.8,267.2 515.4,264.3 512.6,262.2 506.9,262.9 501.2,262.9 503.4,258.7 504.1,255.8Z"/>
<path class="c2" d="M457.2,226.7 459.6,225.6 462,227.3 466.7,229.1 469.6,227.9 471.4,231.5 475.6,232.7 478.5,230.9 482.8,230.3 486.4,229.6 492,231 495.6,233.2 497,235.3 495.6,237.4 495.6,241.7 497.7,245.9 498.4,250.9 501.2,252.3 504.1,255.8 503.4,258.7 501.2,262.9 501,262.8 496.3,261.6 490.9,260.5 488,258.7 484.4,259.9 479.7,257.5 475.6,254 472,250.4 469.6,250.4 469.1,247.4 466.7,243.9 463.7,240.3 462.5,236.2 459.6,232.1 455.4,230.9Z"/>
<path class="c2" d="M528.9,232.5 531.7,236 534.5,238.8 535.9,243.1 536.7,245.9 540.9,250.2 541,251 541.7,253.9 546.7,256.3 553.7,258.4 560.5,259.8 560.8,261.2 564.4,261.2 562.2,258.4 561.5,255.9 567.2,255.6 567.9,258.1 569.3,258.4 571.4,254.9 575,252.7 579.2,255.6 577.1,259.8 575,263.4 572.9,267.6 571.4,270.5 570.7,270.5 571.4,266.2 569.3,265.5 567.9,263.4 564.4,261.2 560.8,261.2 562.2,265.5 563.7,270.5 561.5,272.6 558,277.5 552.3,283.2 546.7,288.2 545.9,293.8 545.9,299.5 544.5,305.9 541.7,308 539.6,305.2 535.3,296.7 531.1,288.2 528.2,281.1 527.5,274.7 523.3,274 519.7,270.5 517.6,266.2 522.6,264.8 521.2,261.2 519,258.4 522.6,254.2 524.7,249.9 528.2,244.2 527.5,245.2 526,242.4 528.2,239.5 531,238.1Z"/>
<path class="c2" d="M541,251 549.5,254.2 556.6,256.3 560.5,256.7 560.5,259.8 553.7,258.4 546.7,256.3 541.7,253.9Z"/>
<path class="c4" d="M561.5,255.9 567.2,255.6 567.9,258.1 562.2,258.4Z"/>
<path class="c1" d="M560.8,261.2 564.4,261.2 567.9,263.4 569.3,265.5 571.4,266.2 570.7,270.5 568.6,269 566.5,271.9 563.7,270.5 562.2,265.5Z"/>
<path class="c1" d="M546.7,303.7 548.8,303 551.6,308 550.9,312.2 548.1,312.9 546.4,308.7Z"/>
<path class="c1" d="M571.4,270.5 572.9,267.6 575,263.4 577.1,259.8 579.2,255.6 582.1,257.7 583.5,262.7 586.3,266.9 589.2,270.5 591.3,273.3 587.7,276.8 584.9,279 586.3,283.9 584.2,286.7 587.7,292.4 589.2,296.7 588.4,299.5 587,293.8 584.9,288.2 580.7,287.5 577.8,283.9 576.4,278.2 573.6,274.7Z"/>
<path class="c3" d="M584.6,281 586.9,278.1 591,276.3 591,273.4 593.9,271.7 597.4,275.2 601.5,280.4 607.3,287.4 607.9,290.3 604.4,290.9 598.6,293.3 596.8,296.2 593.3,295.6 591.6,297.3 591.6,301.4 592.8,304.9 594.5,309 597.4,312.5 596.3,313.1 593.9,312.5 591.6,309 589.6,305.5 589.3,300.8 589.8,297.3 587.5,291.5 586.3,286.8 584.6,283.9Z"/>
<path class="c2" d="M593.9,271.7 596.3,269.9 599.8,268.8 603.3,271.1 605,273.4 603.3,275.8 602.1,278.1 604.4,281.6 607.3,285.1 610.3,288.6 612.6,292.7 613.4,297.3 611.4,300.3 608.5,302.6 605,305.5 603.8,303.8 604.4,300.8 602.7,300.8 605.6,299.7 607.9,297.3 608.5,293.8 606.8,291.5 607.9,290.3 607.3,287.4 604.4,283.9 601.5,280.4 599.8,277.5 597.4,275.2 595.1,274Z"/>
<path class="c2" d="M598.6,293.3 601.5,291.5 604.4,290.9 606.8,291.5 608.5,293.8 607.9,297.3 605.6,299.7 602.7,300.8 600.3,299.7 598,296.8Z"/>
<path class="n" d="M430,222 455.4,222 457.2,226.7 455.4,230.9 451.3,232.7 445.4,233.8 441.8,235.6 437.1,233.8 430,233.8 422.9,233.2 419.3,230.3 419.9,225.6 425.3,223.2Z"/>
<path class="n" d="M417,223.8 419.9,222.6 421.1,225 418.8,225.6Z"/>
<path class="c4" d="M433.3,237.1 437.7,236 436.5,238 434.1,238.6Z"/>
<path class="c1" d="M441.8,235.6 445.4,233.8 451.9,232.7 453.1,235 452.5,238.6 448.9,241.5 445.4,243.3 442.4,243.9 441.6,239.8Z"/>
<path class="c3" d="M440.7,239.8 441.8,238.6 442.1,241.5 440.9,242.7Z"/>
<path class="c4" d="M439.7,243.3 440.9,242.7 441.2,246.9 440.4,251.6 439.2,248Z"/>
<path class="c2" d="M441.2,243.9 445.4,243.3 448.9,241.5 449.5,245.1 446.6,246.9 444.8,249.8 441.8,252.2 440.4,251.6 441.2,246.9Z"/>
<path class="c1" d="M453.1,235 455.4,230.9 459.6,232.1 462.5,236.2 463.7,240.3 466.7,243.9 469.1,247.4 469.6,250.4 466.7,251 463.1,252.8 458.4,249.2 452.5,245.7 449.5,245.1 448.9,241.5 452.5,238.6Z"/>
<path class="c4" d="M441.8,252.2 444.8,249.8 446.6,246.9 449.5,245.1 452.5,245.7 458.4,249.2 463.1,252.8 466.7,251 469.6,251.6 470.8,254.5 473.2,257.5 475,261.1 476.7,262.8 476.7,261.1 478.3,260.5 478.8,263.4 477.3,265.2 479.7,266.4 483.3,265.8 486.8,263.4 488.6,261.1 489.8,260.5 491.5,263.4 495.1,267 498,269.9 496.3,274.1 493.9,276.4 492.7,280 489.2,282.4 486.8,284.7 483.8,285.3 482.1,278.8 477.3,280 472.6,281.2 470.2,283.5 466.7,282.4 463.1,282.9 461,285.3 459,283.5 456.6,278.8 453.7,274.1 450.7,269.3 447.8,263.4 445.4,258.7 442.4,255.1 440.7,253.4Z"/>
<path class="c1" d="M461,285.3 463.1,282.9 466.7,282.4 470.2,283.5 472.6,281.2 477.3,280 482.1,278.8 483.8,285.3 479.7,288.3 475,290.6 470.2,292.4 465.5,293.6 462.2,293 461.4,288.3Z"/>
<path class="c2" d="M459.6,222 467.9,222 468.5,225 469.6,227.9 466.7,229.1 462,227.3 460.8,224.4Z"/>
<path class="c4" d="M455.8,222 459.6,222 460.8,224.4 462,227.3 459.6,225.6 457.2,223.8Z"/>
<path class="c2" d="M450.5,220 454.8,221.1 460.1,221.6 462.2,223.2 458,224.3 456.9,223.7 452.7,221.1Z"/>
<path class="c4" d="M456.9,223.7 458,222.7 460.1,224.8 462.2,226.9 461.7,228 459.1,225.9 457.5,225.3Z"/>
<path class="c2" d="M460.1,222.1 463.3,222.7 466.5,224.3 468.1,226.9 465.4,228 462.2,226.9 460.1,224.8 458.5,223.2Z"/>
<path class="c2" d="M583,315 588,314.6 595,321 600,327 605,334 607,339 606,344 602,342 597,335 592,327 587,320Z"/>
<path class="c2" d="M606,344.6 613,345 620,347 628,350 627,351.6 620,350.6 612,348.6 606.4,346.6Z"/>
<path class="c2" d="M631,351 636,350.6 637,352.6 632,353Z"/>
<path class="c2" d="M639,351 645,350 645.6,352 640,352.6Z"/>
<path class="c2" d="M646,355 652,351 655.6,350.6 653,354 648,356Z"/>
<path class="c4" d="M593.9,312.5 597.4,312.5 599.2,314.8 601.5,319.5 603.3,324.2 602.7,326.3 600.6,324.8 598,321.3 595.1,317.2Z"/>
<path class="c2" d="M616,325 619,326.6 623,324 628,321 631,317 635,318 637,325 635,331 632,336 629,339.4 624,338 619,337 616,333 614.4,328Z"/>
<path class="c4" d="M616.1,324.8 619,323.6 623.7,321.3 628.3,317.2 630.7,313.1 632.4,311.3 635.3,314.3 637.7,316 635.3,317.8 633,317.2 630.7,319.5 627.2,323.6 622.5,325.3 619,327.1 616.7,326.5Z"/>
<path class="c2" d="M639,328 646,326 651.6,325 651,327 646,328 642.4,330 647,333 645,335 642.4,334 644,339 646,343 643.6,343.4 641.6,339 640,343 638,342 638.4,336 637.6,331Z"/>
<path class="c2" d="M657,324 659,323.4 660,329 658,330.6 657.2,327Z"/>
<path class="c2" d="M637,286 641,285 642,290 641,294 644,296 647,298 648,300 644,299 640,296 638,291Z"/>
<path class="c2" d="M642.4,299 646,300 649,302 648,304 644,302.6Z"/>
<path class="c2" d="M645,307 649,305 653,304 654.4,309 653,314 650,313 648,310 645,310.6Z"/>
<path class="c2" d="M632.4,307 637,300.6 638,301.4 633.6,307.4Z"/>
<path class="c2" d="M665,332 669,330 673,332 671,335 675,337 679,334 684,333 688,335 688,352 684,350 681,351 679,347 681,344 676,340 671,338 668,335Z"/>
<path class="c2" d="M688,335 694,337.4 700,342 703,346 701,348 705,353 709,356 704,354.6 699,351 694,350 691,353 688,352Z"/>
<path class="c2" d="M705,344 710,343 714,340 715,337.4 716,340 714,343.4 709,345 705.6,345.4Z"/>
<path class="c2" d="M720,343 723,345 722.4,346 719.6,344Z"/>
<path class="c2" d="M726,348.6 729,350.6 728.4,351.6 725.6,349.6Z"/>
<path class="c2" d="M731,352.6 734.4,355 733.6,356.2 730.4,353.8Z"/>
<path class="c2" d="M637.3,280.9 640.1,280.4 641.5,284.4 640.8,288.7 643.7,291.5 646.5,292.9 649.3,295.7 651.4,298.6 649.3,299.3 645.8,296.4 642.2,294.3 639.4,295 638,290.1 636.6,285.1Z"/>
<path class="c4" d="M614,418 617,412 618,404 617,397 619,390 622,386 630,383 637,380 642,374 648,369 653,366 659,365 662,361 667,358.4 670,360 676,360.4 674,366 678,370 682,374 685,371 687,364 689.6,357.6 691.6,362 694,370 696,378 700,383 703,388 705.6,395 705,401 702,408 698,414 693,420 688,425 682,429 676,431 671,429 666,427 664,423 665,417 661,421 659,418 657,414 652,412 645,413 638,415 632,418 625,418 619,420.4 615,419.6Z"/>
<path class="c4" d="M669,436 673,435.6 677,436 675,440 671,442.4 668,442Z"/>
<path class="c4" d="M739,420 741,419 742,424 747,427 743,430 739,434 735,437 732,436 735,432 738,429 739,425Z"/>
<path class="c4" d="M730,435 731,438 725,442 719,446 712,449.6 707,450.6 705.6,448.4 711,445 718,441 724,438Z"/>
<path class="c4" d="M734.4,381.6 736,381 740,386 739,387.4 736,384.4Z"/>
<path class="c2" d="M743.6,367.6 744.8,368 745.2,372 744,371.6Z"/>
<path class="c2" d="M766,374.8 768.4,374 769.2,375.6 766.8,376.6Z"/>
<path class="c4" d="M9,277.6 10.6,276.2 12.2,277.8 10.2,280Z"/>
<path class="c4" d="M5.5,272 7,272.3 7.2,273.2 5.8,273Z"/>
<path class="c4" d="M7.5,273.6 8.8,274 8.8,274.8 7.6,274.4Z"/>
<path class="c3" d="M492.7,381.2 493.6,380.8 494.2,381.6 493.4,382.4Z"/>
<path class="b" d="M189.5,331.5 194.1,334.6 199.5,335.3 201.8,332.3 202.6,325.4M201.8,332.3 202.6,338.4 198,340.7 194.1,343.8 193.4,348.4 195.7,353 201,356.8 201.8,358.3 205.2,359.9 206.1,364.5 205.2,369.1 205.2,372.9 204.1,376.4M201.8,358.3 206.4,356.8 211,354.5 213.3,356.8 214.1,360.2 218.7,362.2 224,365.2 226.3,370.6 231.7,372.9 232.5,379M211,389 213.3,386.7 217.9,386.7 221.7,385.9M240.9,395.1 243.2,396.7 240.1,401.3 237.1,405.9 238.3,408.1M243,397.1 240.4,401.4 237.3,405.6 235.9,408.5M235.6,412 235.2,416.2 237.3,419.8M368.3,197.4 372,199.5 374.7,200.6 377.3,201.7 376.8,204.9 375.7,207M368.3,197.4 370.4,195.8M374.7,200.6 374.7,196.3 376.3,193.7 376.8,190.5M390.1,189.4 391.2,193.7 391.7,196.3 388,197.9 390.1,201.7 388.5,203.8 386.9,204.9 383.2,205.9M391.7,196.3 396.5,197.4 399.7,199.5 404,200.6 408.2,200.1 410.4,196.3 409.3,192.1 407.2,188.3 400.8,187.8M390.1,201.7 392.8,202.5 396.5,201.7 399.7,199.5M396.5,201.7 398.1,203.8 402.4,203.3 407.2,202.7 408.2,200.6M386.9,204.9 391.2,203.8 395.4,204.3 396.5,206.5 398.1,203.8M396.5,206.5 396,207.5 398.1,209.1 402.4,209.1M396,207.5 394.4,208.6 391.2,209.1M392.8,210.7 395.4,209.7 398.1,209.1M408.8,204.3 407.2,202.7M410.4,196.3 414.6,195.3 421,194.7 424.2,194.2 425.3,191 424.2,187.8 420,184.6 414.6,185.1M404,185.1 405.6,187.3 407.2,188.3M403.7,183.5 406.7,183.5 410.8,182.9 414.4,184.7 416.7,182.3M407.9,178.2 410.8,179.4 415,180 416.7,182.3 419.7,183.5M410.8,376 409.6,382.5 407.8,387.2 407.8,394.9 407.2,400.2 404.9,405 401.3,403.8 399.5,402.6M407.8,394.9 409.6,399.1 414.3,395.5 417.3,396.1 420.8,393.1 424.4,389 427.9,386.6 429.7,386.6M422.4,406.7 425.6,403.2 428.5,405 425.6,409.1 423.8,409.1 422.4,406.7M431.7,397.9 433.3,396.1 434.7,397.9 433.8,400.2 432.1,400 431.7,397.9M372.8,278.7 372,286.9 367.1,288.6 364.6,291 367.9,291.9 369.5,294.3 372.8,293.5 378.6,292.7 383.6,294.3 389.3,293.5 394.3,294.3 393.5,292.7M419.4,271.6 445.5,271.6M417.4,299.3 420.7,304.2 425.7,302.6 430.6,302.6 435.6,299.3 438.9,297.6 443,302.6 446.3,297.6 448,291 450.4,286.1M448,291 452.1,292.7 457,296M395.9,299.3 393.5,304.2 390.2,309.2 386,312.5 383.6,315.8M370.9,304.2 371.2,298.5 372.8,293.5M350.9,301.9 350.9,299.7 353.6,296 357.3,292.8 361.1,290.1 363.7,291.2 365.9,294.9 368.5,297.1 366.9,298.7 363.7,300.3 362.7,300.3M365.3,300.8 366.9,298.7 369.6,297.6 371.2,299.7 369.9,305.6 369.6,312M371.2,299.7 371.2,293.9 369.6,297.6M325.3,296.5 330.7,296.5 331.2,298.1M332.3,305.1 334.4,302.9 337.1,302.4 338.1,305.1 338.7,307.7 336.5,310.4M338.7,307.7 340.3,307.2 342.9,309.3M385.3,323.2 389.3,323.2 389.3,326.4M446.1,290.7 448.8,290.1 453.1,290.7 456.3,293.3 459.5,296M460,300.3 462.7,302.9 466.9,306.1 472.8,308.3 469.1,312 464.8,315.7 461.1,317.3 457.9,318.4M396.5,305 395.7,309.1 396.5,313.2 398.2,318.2 400.6,320.6 395.7,321.5 389.9,322.3 385,323.1M400.6,309.1 406.4,306.6 411.4,304.1 415.5,302.5 418.8,305 422.9,309.1 427.9,314 422.9,316.5 418,315.7 413,316.5 408.1,315.7 405.6,316.5 404.8,319.8 402.3,319 400.6,320.6M418.8,305 421.3,301.7 429.5,302.5 437,300.8 439.4,300M427.9,314 431.2,318.2 436.1,319 441.1,317.3 443.6,316.5 440.3,309.9 438.6,305.8 437,300.8M443.6,316.5 449.3,319 455.9,319.8 462.5,318.2 471.6,309.1M462.5,318.2 459.2,321.5 457.6,328.1 457.6,335.5M443.6,316.5 441.9,321.5 442.7,329.7 452.6,338 455.1,340.4M433.7,319.5 432.8,324.8 432.8,331.4 437,331.4 442.7,329.7M431.2,318.2 433.7,319.5M432.8,331.4 431.2,333 430.4,340.4 432.8,346.2 433.7,350.4 428.7,352 428.7,356.1M430.4,333 433.7,333.8 434.2,337.1 433.2,340.4 430.4,340.4M404.8,319.8 401.5,324.8 399.8,330.5 396.5,335.5 392.4,341.3 390.7,342.9M389.1,338.8 390.7,334.7 394,335.5 396.5,332.2M390.7,342.9 399.8,343.8 402.3,347.9 408.9,347.9 412.2,347.1 413,356.1 418,358.6M413,369.3 415.5,373.5 410.5,375.9 401.5,375.1 389.9,374.3M433.7,350.4 437.8,353.7M440.3,357 449.3,357.8 455.9,356.1M437.8,353.7 440.3,354.5 441.9,362.7 443.6,369.3 441.9,371.8 439.8,366 439.4,357.8 437.8,353.7M437.8,363.6 439.8,366M431.2,367.7 431.2,369.3 436.1,371M443.6,369.3 441.9,362.7 440.3,357M591.6,276.9 592.8,279.8 593.9,282.8 596.8,281 599.8,281.6 602.1,285.1 603.8,288 604.4,290.9M479.7,266.4 485.6,268.2 488.6,269.3 488,274.1 485.6,277 482.1,278.8M488.6,269.3 489.2,262.8 488.6,261.1"/>
<g id="legend">
<rect x="216.5" y="537.5" width="48" height="11" fill="url(#h)" stroke="#ccc" stroke-width="0.8"/>
<rect x="284" y="537" width="70" height="11.5" fill="#edf8fb"/>
<rect x="354" y="537" width="70" height="11.5" fill="#b3cde3"/>
<rect x="424" y="537" width="70" height="11.5" fill="#8c96c6"/>
<rect x="494" y="537" width="70" height="11.5" fill="#8856a7"/>
<path d="M564,537H628.5L633.5,542.75L628.5,548.5H564Z" fill="#810f7c"/>
<path d="M284,537H354V548.5H284Z" fill="none" stroke="#c4c4c4" stroke-width="0.7"/>
<path d="M354,537V548.5M424,537V548.5M494,537V548.5M564,537V548.5" stroke="#999" stroke-width="0.4" fill="none"/>
<path d="M240.5,534V537M319,534V537M424,534V537M494,534V537M564,534V537" stroke="#bbb" stroke-width="0.7" fill="none"/>
</g>
</svg>
<div class="lg" style="left:217px;top:518px;">No data</div>
<div class="lg" style="left:290px;top:518px;">&lt;5 tonnes</div>
<div class="lg" style="left:394px;top:518px;">10 tonnes</div>
<div class="lg" style="left:464px;top:518px;">20 tonnes</div>
<div class="lg" style="left:534px;top:518px;">50 tonnes</div>
<div id="src"><b>Data source:</b> United Nations Environment Programme</div>
<div id="url">OurWorldinData.org/sdgs/economic-growth | CC BY</div>
</body>
</html>
